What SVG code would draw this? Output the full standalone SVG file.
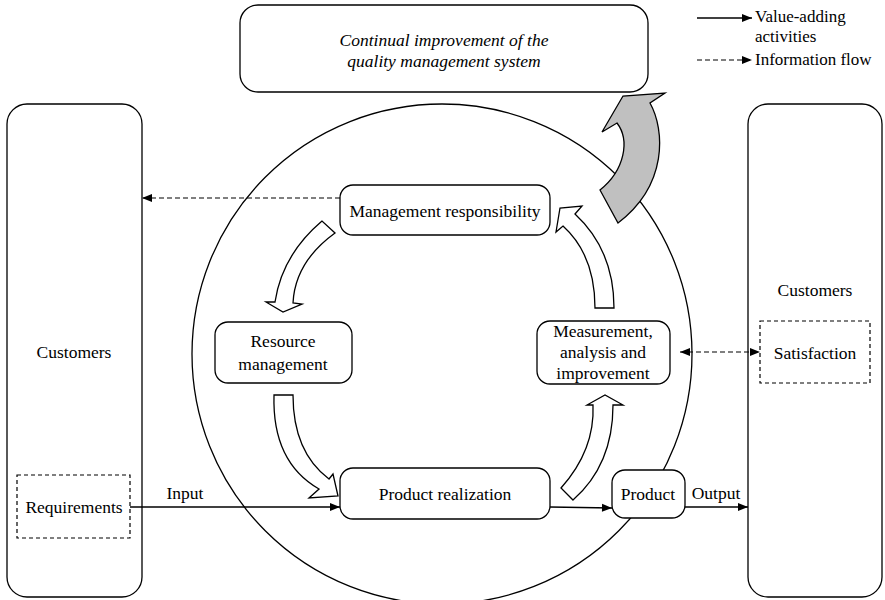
<svg xmlns="http://www.w3.org/2000/svg" width="885" height="600" viewBox="0 0 885 600" font-family="'Liberation Serif', serif">
<style>
text{font-family:'Liberation Serif',serif;font-size:17.5px;fill:#000;text-anchor:middle}
.st{text-anchor:start;font-size:17px}
.box{fill:#fff;stroke:#000;stroke-width:1.3}
.dbox{fill:#fff;stroke:#000;stroke-width:1.2;stroke-dasharray:4,3}
.ln{fill:none;stroke:#000;stroke-width:1.3}
.dl{fill:none;stroke:#000;stroke-width:1.2;stroke-dasharray:5,3}
.blk{fill:#fff;stroke:#000;stroke-width:1.3;stroke-linejoin:miter}
</style>
<defs>
<marker id="ah" viewBox="0 0 10 10" refX="10" refY="5" markerWidth="11" markerHeight="10" markerUnits="userSpaceOnUse" orient="auto-start-reverse">
<path d="M0,1 L10,5 L0,9 Z" fill="#000"/>
</marker>
</defs>
<g id="circle"><circle cx="442" cy="354" r="250" class="ln" stroke-width="1.1"/></g>
<g id="top-box">
<rect x="240" y="5" width="408" height="87" rx="18" class="box"/>
<text x="444" y="46" font-style="italic">Continual improvement of the</text>
<text x="444" y="67" font-style="italic">quality management system</text>
</g>
<g id="legend">
<line x1="697" y1="18" x2="752" y2="18" class="ln" marker-end="url(#ah)"/>
<text x="755" y="22" class="st">Value-adding</text>
<text x="755" y="42" class="st">activities</text>
<line x1="697" y1="60" x2="752" y2="60" class="dl" marker-end="url(#ah)"/>
<text x="755" y="65" class="st">Information flow</text>
</g>
<g id="customers-left">
<rect x="7" y="104" width="135" height="493" rx="20" class="box"/>
<text x="74" y="358">Customers</text>
</g>
<g id="requirements">
<rect x="17" y="475" width="113" height="63" class="dbox"/>
<text x="74" y="513">Requirements</text>
</g>
<g id="customers-right">
<rect x="748" y="104" width="134" height="493" rx="20" class="box"/>
<text x="815" y="296">Customers</text>
</g>
<g id="satisfaction">
<rect x="760" y="321" width="110" height="62" class="dbox"/>
<text x="815" y="359">Satisfaction</text>
</g>
<g id="gray-arrow">
<path d="M600,190 C625,170 630,140 617,123 L602,132 L623,96 L665,93 L650,103 C665,130 668,185 618,223 Z" fill="#c0c0c0" stroke="#000" stroke-width="1.3" stroke-linejoin="miter"/>
</g>
<g id="connectors">
<line x1="340" y1="198" x2="142" y2="198" class="dl" marker-end="url(#ah)"/>
<line x1="680" y1="352" x2="760" y2="352" class="dl" marker-start="url(#ah)" marker-end="url(#ah)"/>
<line x1="130" y1="507" x2="340" y2="507" class="ln" marker-end="url(#ah)"/>
<line x1="550" y1="507" x2="612" y2="508" class="ln" marker-end="url(#ah)"/>
<line x1="685" y1="507" x2="748" y2="507" class="ln" marker-end="url(#ah)"/>
<text x="185" y="499">Input</text>
<text x="716" y="499">Output</text>
<path class="blk" d="M322,221 Q282,255 275,302 L266,302 L283,312 L302,304 L293,303 Q295,262 335,233 Z"/>
<path class="blk" d="M274,395 Q272,462 319,489 L309,498 L338,496 L333,474 L329,479 Q293,452 293,395 Z"/>
<path class="blk" d="M561,488 Q595,450 593,405 L587,405 L605,395 L623,405 L613,405 Q613,465 573,500 Z"/>
<path class="blk" d="M595,308 Q595,255 563,226 L556,232 L560,208 L582,206 L575,214 Q614,250 614,308 Z"/>
</g>
<g id="management-responsibility">
<rect x="340" y="185" width="210" height="50" rx="13" class="box"/>
<text x="445" y="217">Management responsibility</text>
</g>
<g id="resource-management">
<rect x="215" y="322" width="137" height="61" rx="13" class="box"/>
<text x="283" y="347">Resource</text>
<text x="283" y="370">management</text>
</g>
<g id="measurement">
<rect x="537" y="321" width="133" height="63" rx="13" class="box"/>
<text x="603" y="337">Measurement,</text>
<text x="603" y="358">analysis and</text>
<text x="603" y="379">improvement</text>
</g>
<g id="product-realization">
<rect x="340" y="468" width="210" height="51" rx="13" class="box"/>
<text x="445" y="500">Product realization</text>
</g>
<g id="product">
<rect x="612" y="470" width="73" height="48" rx="13" class="box"/>
<text x="648" y="500">Product</text>
</g>
</svg>
